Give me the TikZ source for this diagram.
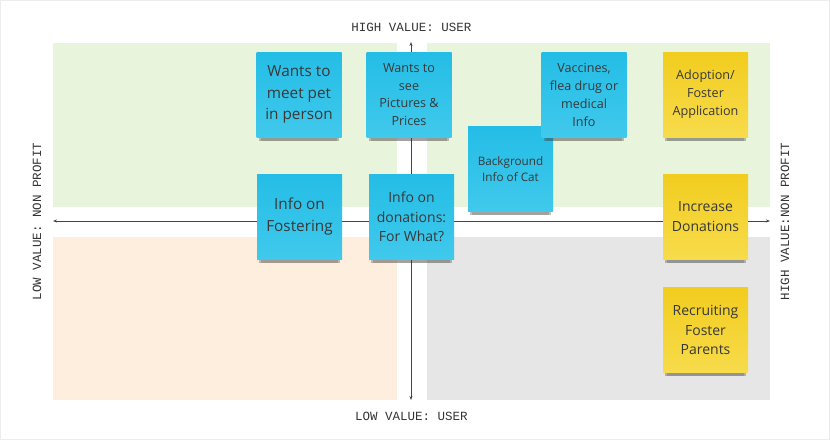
\documentclass[tikz,border=0pt]{standalone}
\usepackage{fontspec}
\setmainfont{Open Sans}
\newfontfamily\axisfont{Liberation Mono}
\usepackage{tikz}
\usetikzlibrary{shadows, arrows.meta}
\definecolor{quadgreen}{HTML}{E8F5DC}
\definecolor{quadpeach}{HTML}{FEEEDD}
\definecolor{quadgray}{HTML}{E6E6E6}
\definecolor{noteblue}{HTML}{24BDE6}
\definecolor{noteblueb}{HTML}{40C9EC}
\definecolor{noteyellow}{HTML}{F2CD1F}
\definecolor{noteyellowb}{HTML}{F7DB4B}
\definecolor{axisgray}{HTML}{444444}
\tikzset{
    sticky/.style={rectangle, minimum width=85pt, minimum height=85pt, inner sep=0pt, align=center, text=black!78,
        drop shadow={shadow xshift=0pt, shadow yshift=-9pt, shadow scale=0.9, opacity=0.22, fill=black!80},
        drop shadow={shadow xshift=0pt, shadow yshift=-6pt, shadow scale=0.95, opacity=0.3, fill=black!80}},% shadow only shows under the note
}

\begin{document}
\begin{tikzpicture}
    [x=1pt, y=-1pt,
    bluenote/.style={sticky, top color=noteblue, bottom color=noteblueb},
    yellownote/.style={sticky, top color=noteyellow, bottom color=noteyellowb},
    hugetext/.style={font=\fontsize{15.3}{21.5}\selectfont},
    midtext/.style={font=\fontsize{14}{19.5}\selectfont},
    smalltext/.style={font=\fontsize{12.6}{17.8}\selectfont},
    tinytext/.style={font=\fontsize{11.7}{16.7}\selectfont},
    axis/.style={draw=axisgray, line width=0.7pt, {Stealth[length=4pt,width=3pt]}-{Stealth[length=4pt,width=3pt]}},
    axislabel/.style={font=\axisfont\fontsize{12.5}{14}\selectfont, text=black!80, inner sep=0pt}]
    \useasboundingbox (0,0) rectangle (830,440);
    \draw[black!7] (0.5,0.5) rectangle (829.5,439.5);
    % quadrants
    \fill[quadgreen] (53,43) rectangle (397,207);
    \fill[quadgreen] (427,43) rectangle (770,207);
    \fill[quadpeach] (53,237) rectangle (397,400);
    \fill[quadgray] (427,237) rectangle (770,400);
    % axes
    \coordinate (north) at (411,42);
    \coordinate (south) at (411,400);
    \coordinate (west) at (53,221);
    \coordinate (east) at (770,221);
    \draw[axis] (south) -- (north);
    \draw[axis] (west) -- (east);
    \node[axislabel] (hiuser) at (411.5,27) {HIGH VALUE: USER};
    \node[axislabel] (louser) at (411.5,416) {LOW VALUE: USER};
    \node[axislabel, rotate=90] (lonp) at (37,221.5) {LOW VALUE: NON PROFIT};
    \node[axislabel, rotate=90] (hinp) at (785,221.5) {HIGH VALUE:NON PROFIT};
    % sticky notes
    \node[bluenote, hugetext] (meet) at (299,94.5) {Wants to\\meet pet\\in person};
    \node[bluenote, smalltext] (pics) at (409,94.5) {Wants to\\see\\Pictures \&\\Prices};
    \node[bluenote, tinytext] (backg) at (510.5,169) {Background\\Info of Cat};
    \node[bluenote, smalltext] (vacc) at (584,95) {Vaccines,\\flea drug or\\medical\\Info};
    \node[yellownote, smalltext] (adopt) at (705.5,94.5) {Adoption/\\Foster\\Application};
    \node[bluenote, hugetext] (foster) at (299.5,216.5) {Info on\\Fostering};
    \node[bluenote, midtext] (donat) at (411.5,217) {Info on\\donations:\\For What?};
    \node[yellownote, midtext] (incr) at (705.5,216.5) {Increase\\Donations};
    \node[yellownote, midtext] (recr) at (705.5,330) {Recruiting\\Foster\\Parents};
\end{tikzpicture}
\end{document}
